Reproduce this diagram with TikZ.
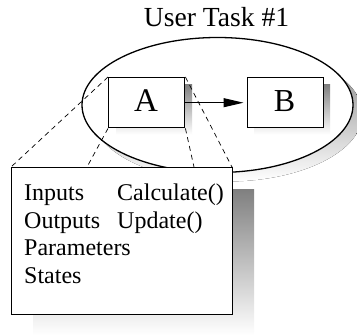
\documentclass[tikz,border=0pt]{standalone}
\usepackage{fontspec}
\setmainfont{Liberation Serif}
\usetikzlibrary{arrows.meta}
\definecolor{shade}{RGB}{192,192,192}
\begin{document}
\begin{tikzpicture}[x=1pt,y=-1pt,
  boxline/.style={draw=black,line width=1.4pt,fill=white},
  proj/.style={draw=black,line width=0.7pt,dash pattern=on 5pt off 4pt},
  lbl/.style={anchor=base west,inner sep=0pt,font=\fontsize{24}{24}\selectfont}]
\useasboundingbox (0,0) rectangle (357,335);
% title
\node[anchor=base,inner sep=0pt,font=\fontsize{27.6}{28}\selectfont] (title) at (216.5,26.5) {User Task \#1};
% ellipse
\fill[shade] (227,114) ellipse [x radius=135.5, y radius=67.5];
\draw[line width=1.3pt,fill=white] (217.5,105) ellipse [x radius=135.5, y radius=67.5];
% shadows of A and B
\fill[shade] (116,84.5) rectangle (192,134.5);
\fill[shade] (254,84.5) rectangle (330,134.5);
% big box top points
\coordinate (P1) at (11,167);
\coordinate (P2) at (87,167);
\coordinate (P3) at (194,167);
\coordinate (P4) at (232,167);
% A and B boxes
\node[boxline,minimum width=76pt,minimum height=50pt,inner sep=0pt,anchor=north west] (A) at (108,77) {};
\node[boxline,minimum width=76pt,minimum height=50pt,inner sep=0pt,anchor=north west] (B) at (246.5,77) {};
% projection lines
\draw[proj] (A.north west) -- (P1);
\draw[proj] (A.south west) -- (P2);
\draw[proj] (A.south east) -- (P3);
\draw[proj] (A.north east) -- (P4);
% redraw box A on top
\node[boxline,minimum width=76pt,minimum height=50pt,inner sep=0pt,anchor=north west] (A2) at (108,77) {};
\node[anchor=base,inner sep=0pt,font=\fontsize{33}{33}\selectfont] (Alab) at (146,111) {A};
\node[anchor=base,inner sep=0pt,font=\fontsize{32}{32}\selectfont] (Blab) at (284.5,111.5) {B};
% arrow
\draw[line width=1pt,-{Triangle[length=20pt,width=9pt]}] (A2.east) -- ([xshift=-3pt]B.west);
% big box
\fill[shade] (33,189) rectangle (254,335);
\node[boxline,minimum width=221pt,minimum height=147pt,inner sep=0pt,anchor=north west] (C) at (11,167) {};
\node[lbl] (in) at (24,200) {Inputs};
\node[lbl] (out) at (24,228) {Outputs};
\node[lbl] (par) at (24,255.5) {Parameters};
\node[lbl] (st) at (24,283) {States};
\node[lbl] (calc) at (117,200) {Calculate()};
\node[lbl] (upd) at (117,228) {Update()};
\end{tikzpicture}
\end{document}
